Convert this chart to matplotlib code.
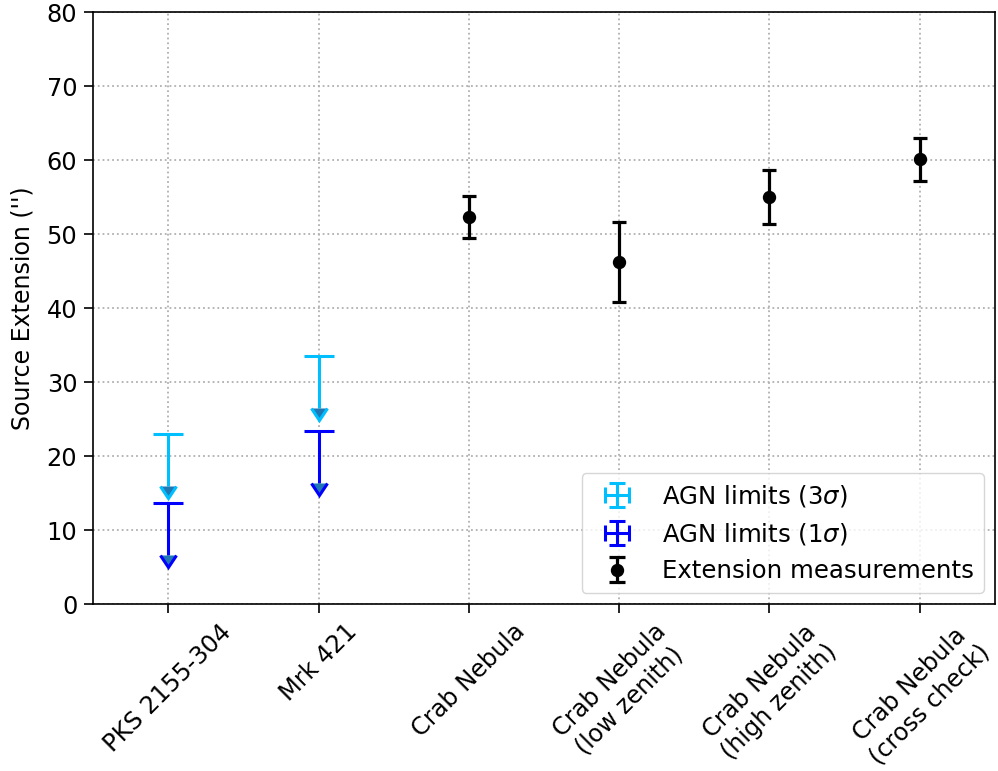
import numpy as np
import matplotlib
matplotlib.use("Agg")
import matplotlib.pyplot as plt

# ---- data ----
categories = ["PKS 2155-304", "Mrk 421", "Crab Nebula",
              "Crab Nebula\n(low zenith)", "Crab Nebula\n(high zenith)",
              "Crab Nebula\n(cross check)"]
agn_idx = [0, 1]
agn_limits_3sigma = [23.0, 33.5]
agn_limits_1sigma = [13.6, 23.4]
arrow_len = 7.0
crab_idx = [2, 3, 4, 5]
crab_ext = [52.3, 46.2, 55.0, 60.1]
crab_err = [2.9, 5.4, 3.6, 2.9]
yticks = [0, 10, 20, 30, 40, 50, 60, 70, 80]

FS = 17.3
plt.rcParams['font.family'] = ['DejaVu Sans']
plt.rcParams['font.size'] = FS

fig = plt.figure(figsize=(9.98, 7.71), dpi=100)
ax = fig.add_axes([93/998, 1 - 604/771, (995 - 93)/998, (604 - 12)/771])

def limit(xs, ys, color):
    eb = ax.errorbar(xs, ys, yerr=arrow_len, uplims=True, fmt='none',
                     ecolor=color, elinewidth=2.2, capsize=10.8, capthick=2.2,
                     zorder=3)
    for cl in eb[1]:
        if cl.get_marker() not in ('_', '|'):
            cl.set_markersize(11.5)
    return eb

limit(agn_idx, agn_limits_3sigma, '#00BFFF')
limit(agn_idx, agn_limits_1sigma, '#0000FF')
ax.errorbar(crab_idx, crab_ext, yerr=crab_err, fmt='o', color='black',
            markersize=8.6, elinewidth=2.3, capsize=5, capthick=2.3, zorder=3)

# legend proxies (errorbar crosses)
h1 = ax.errorbar([np.nan], [np.nan], xerr=1, yerr=1, fmt='none', ecolor='#00BFFF',
                 elinewidth=2.2, capsize=6, capthick=2.2)
h2 = ax.errorbar([np.nan], [np.nan], xerr=1, yerr=1, fmt='none', ecolor='#0000FF',
                 elinewidth=2.2, capsize=6, capthick=2.2)
h3 = ax.errorbar([np.nan], [np.nan], yerr=1, fmt='o', color='black',
                 markersize=8.6, elinewidth=2.3, capsize=6, capthick=2.3)
ax.legend([h1, h2, h3], [r'AGN limits (3$\sigma$)', r'AGN limits (1$\sigma$)',
                         'Extension measurements'],
          loc='lower right', fontsize=17.6, framealpha=0.8, edgecolor='#cccccc',
          handlelength=2.1, borderaxespad=0.45)

ax.set_xlim(-0.5, 5.5)
ax.set_ylim(0, 80)
ax.set_xticks(range(len(categories)))
ax.set_xticklabels(categories, rotation=45, ha='center', fontsize=FS)
ax.set_yticks(yticks)
ax.set_ylabel("Source Extension ('')", fontsize=FS - 0.3, labelpad=9)
ax.grid(True, linestyle=':', color='#b0b0b0', linewidth=1.3)
ax.set_axisbelow(True)
for s in ax.spines.values():
    s.set_linewidth(1.2)
ax.tick_params(width=1.2, length=6.3, pad=5)

fig.savefig("out.png", dpi=100)
